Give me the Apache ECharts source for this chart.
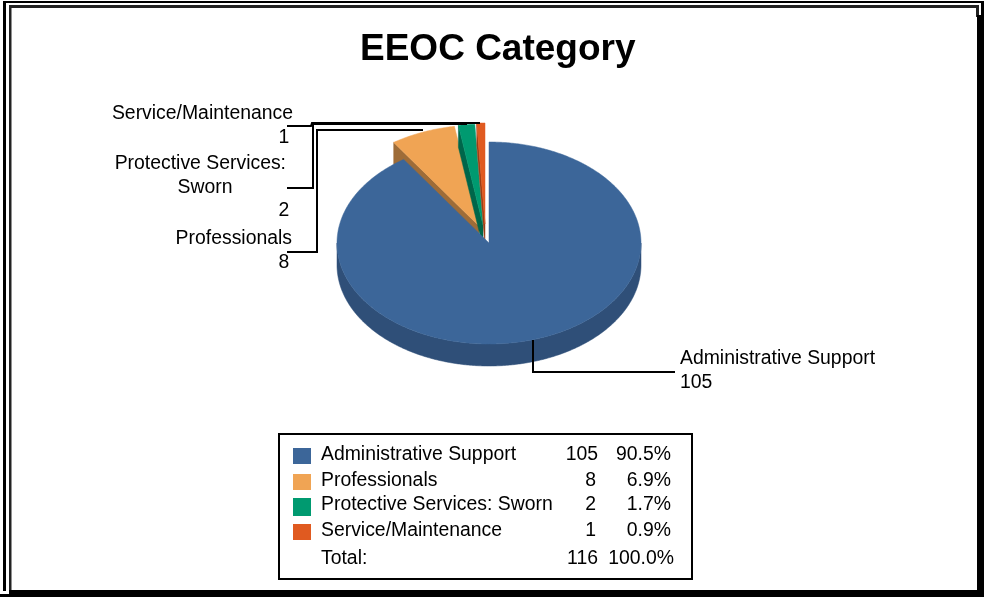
<!DOCTYPE html>
<html><head><meta charset="utf-8">
<style>html,body{margin:0;padding:0;background:#fff}#c{width:984px;height:597px}</style>
<script src="https://cdn.jsdelivr.net/npm/echarts@6/dist/echarts.min.js"></script>
</head><body><div id="c"></div>
<script>
const categories = ['Administrative Support','Professionals','Protective Services: Sworn','Service/Maintenance'];
const values = [105,8,2,1];
const percents = ['90.5%','6.9%','1.7%','0.9%'];
const totalValue = '116';
const totalPercent = '100.0%';

const topColors = ['#3C6699','#F0A454','#009A70','#E05A20'];
const sideColors = ['#2F4F78','#9E6C38','#00664A','#9A3E16'];
const offsets = [[0,0],[-10,-17],[-6,-18],[-4,-19]];
const drawOrder = [1,2,3,0];
const cx=489, cy=243, rx=152, ry=101, depth=22;
const font='"Liberation Sans", Arial, sans-serif';

const total = values.reduce((a,b)=>a+b,0);
const starts=[]; let acc=0;
values.forEach(v=>{starts.push(acc/total*Math.PI*2); acc+=v;});

function pt(a,ox,oy,dy){return [cx+ox+Math.sin(a)*rx, cy+oy+dy-Math.cos(a)*ry];}
function arc(a0,a1,ox,oy,dy){const n=Math.max(2,Math.ceil((a1-a0)/0.01));const r=[];
  for(let i=0;i<=n;i++) r.push(pt(a0+(a1-a0)*i/n,ox,oy,dy)); return r;}
function poly(points,fill){return {type:'polygon',shape:{points},style:{fill,stroke:fill,lineWidth:0.5}};}

function renderItem(params,api){
  const i=api.value(1), v=api.value(0);
  const a0=starts[i], a1=a0+v/total*Math.PI*2;
  const [ox,oy]=offsets[i];
  const ch=[];
  const apex=[cx+ox,cy+oy], apexD=[cx+ox,cy+oy+depth];
  const s=sideColors[i];
  if(i>0){
    ch.push(poly([apex,pt(a0,ox,oy,0),pt(a0,ox,oy,depth),apexD],s));
  }
  const w0=Math.max(a0,Math.PI/2), w1=Math.min(a1,Math.PI*1.5);
  if(w1>w0){
    const top=arc(w0,w1,ox,oy,0), bot=arc(w0,w1,ox,oy,depth).reverse();
    ch.push(poly(top.concat(bot),s));
  }
  ch.push(poly([apex].concat(arc(a0,a1,ox,oy,0)),topColors[i]));
  return {type:'group',children:ch};
}

const pieData = drawOrder.map(i=>({value:[values[i],i],name:categories[i]}));

function txt(text,x,y,align){return {type:'text',silent:true,style:{text,x,y:y+1,
  align:align||'left',verticalAlign:'middle',font:'19.4px '+font,fill:'#000'}};}
function line(points,w){return {type:'polyline',silent:true,shape:{points},style:{stroke:'#000',lineWidth:w||2,fill:null}};}
function band(x,y,w,h,fill){return {type:'rect',silent:true,shape:{x,y,width:w,height:h},style:{fill}};}

const g=[];
// double frame with heavy lower-right shadow
g.push(band(3,1,979,2,'#000'));
g.push(band(3,1,3,590,'#000'));
g.push(band(9,5,970,3,'#222'));
g.push(band(9,5,2.5,586,'#222'));
g.push(band(976,5,3,12,'#222'));
g.push(band(981,1,3,16,'#000'));
g.push(band(977,15,7,582,'#000'));
g.push(band(9,590,975,7,'#000'));
g.push(band(0,594,984,3,'#000'));

// leader lines
g.push(line([[287,126],[311,126],[312,123],[480,123]]));
g.push(line([[287,188],[313,188],[313,124],[467,124]]));
g.push(line([[287,252],[317,252],[317,130],[423,130]]));
g.push(line([[533,340],[533,372],[675,372]]));

// pie labels
g.push(txt(categories[3],293,113,'right'));
g.push(txt(String(values[3]),284,137,'center'));
g.push(txt('Protective Services:',286,163,'right'));
g.push(txt('Sworn',205,187,'center'));
g.push(txt(String(values[2]),284,210,'center'));
g.push(txt(categories[1],292,238,'right'));
g.push(txt(String(values[1]),284,262,'center'));
g.push(txt(categories[0],680,358,'left'));
g.push(txt(String(values[0]),680,382,'left'));

// summary table
g.push({type:'rect',silent:true,shape:{x:279,y:434,width:413,height:145},style:{fill:'#fff',stroke:'#000',lineWidth:2}});
const rowY=[454,480,504,530];
const swY=[448,474,498,524];
const swH=[16,16,18,16];
categories.forEach((c,i)=>{
  g.push(band(293,swY[i],18,swH[i],topColors[i]));
  g.push(txt(c,321,rowY[i]));
  g.push(txt(String(values[i]),i===0?598:596,rowY[i],'right'));
  g.push(txt(percents[i],671,rowY[i],'right'));
});
g.push(txt('Total:',321,558));
g.push(txt(totalValue,598,558,'right'));
g.push(txt(totalPercent,674,558,'right'));

const chart=echarts.init(document.getElementById('c'),null,{renderer:'canvas'});
chart.setOption({
  animation:false,
  backgroundColor:'#fff',
  title:{text:'EEOC Category',left:360,top:31,padding:0,
    textStyle:{fontFamily:font,fontSize:37,fontWeight:'bold',color:'#000'}},
  series:[{type:'custom',coordinateSystem:'none',silent:true,renderItem,
    encode:{value:0},data:pieData,z:3}],
  graphic:{elements:g.map(e=>Object.assign({z:e.type==='polyline'?10:1},e))}
});
</script></body></html>
